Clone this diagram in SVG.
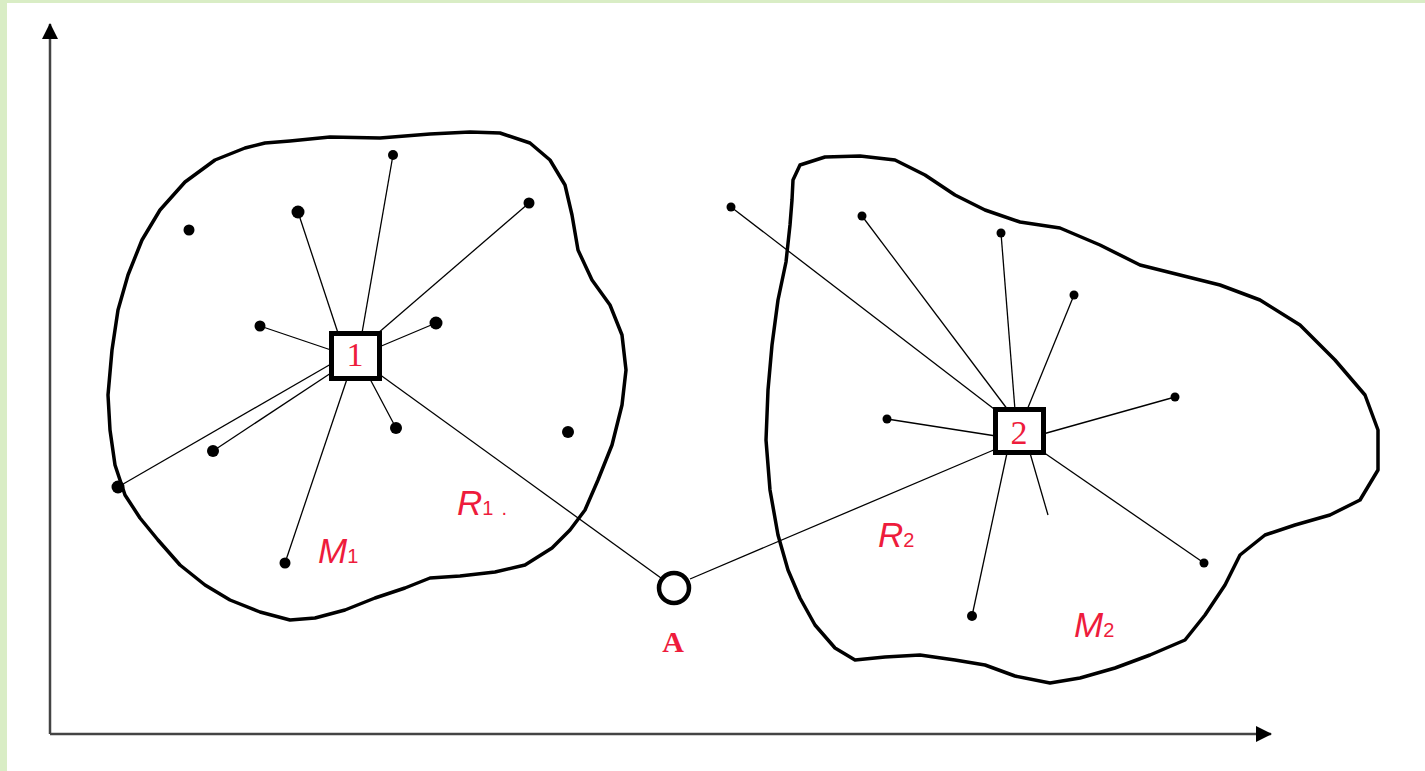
<svg xmlns="http://www.w3.org/2000/svg" width="1425" height="771" viewBox="0 0 1425 771">
<style>
.blob{fill:none;stroke:#000;stroke-width:3.5;stroke-linejoin:round}
.axis{stroke:#444;stroke-width:2.5;fill:none}
.ln{stroke:#000;stroke-width:1.3}
.dot{fill:#000}
.box{fill:#fff;stroke:#000;stroke-width:5}
.num{font-family:"Liberation Serif",serif;font-size:34px;fill:#ee1c3c;text-anchor:middle}
.lbl{font-family:"Liberation Sans",Arial,sans-serif;font-style:italic;font-size:35px;fill:#ee1c3c}
.sub{font-style:normal;font-size:20px}
</style>
<defs>
<marker id="arr" viewBox="0 0 16 16" refX="15" refY="8" markerWidth="16" markerHeight="16" markerUnits="userSpaceOnUse" orient="auto">
<path d="M0,0 L16,8 L0,16 Z" fill="#000"/>
</marker>
</defs>
<rect width="1425" height="771" fill="#fff"/>
<rect x="0" y="0" width="1425" height="3" fill="#d9edc5"/>
<rect x="0" y="0" width="7" height="771" fill="#d9edc5"/>
<g id="axes">
<path class="axis" d="M50,734 L50,24" marker-end="url(#arr)"/>
<path class="axis" d="M50,734 L1271,734" marker-end="url(#arr)"/>
</g>
<g id="region1">
<path class="blob" d="M245,148 L265,143 L290,141 L330,137 L380,138 L430,134 L470,132 L500,133 L530,143 L550,160 L565,185 L572,215 L578,250 L592,280 L610,305 L622,335 L626,370 L622,405 L612,445 L598,480 L585,510 L570,530 L552,548 L525,565 L495,572 L460,576 L430,578 L405,588 L375,598 L345,610 L315,618 L290,620 L260,612 L230,600 L205,585 L180,565 L158,540 L140,518 L125,495 L115,465 L110,430 L108,395 L112,350 L118,310 L128,275 L142,240 L160,210 L185,182 L215,160 Z"/>
</g>
<g id="region2">
<path class="blob" d="M793,180 L800,165 L825,157 L860,156 L895,160 L925,175 L955,195 L985,210 L1020,222 L1060,228 L1100,245 L1140,265 L1180,275 L1220,285 L1260,300 L1300,325 L1335,360 L1365,395 L1378,430 L1378,470 L1360,500 L1330,515 L1295,525 L1265,535 L1240,555 L1225,585 L1205,615 L1185,640 L1150,655 L1115,668 L1080,678 L1050,683 L1015,676 L985,665 L955,660 L920,655 L885,657 L855,660 L835,648 L815,625 L800,598 L788,570 L778,535 L770,490 L766,440 L768,390 L772,345 L778,300 L786,262 L790,225 L792,200 Z"/>
</g>
<g id="connectors">
<line class="ln" x1="393" y1="155" x2="362" y2="333"/>
<line class="ln" x1="298" y1="212" x2="338" y2="333"/>
<line class="ln" x1="529" y1="203" x2="377" y2="334"/>
<line class="ln" x1="260" y1="326" x2="331" y2="350"/>
<line class="ln" x1="436" y1="323" x2="379" y2="347"/>
<line class="ln" x1="396" y1="428" x2="370" y2="379"/>
<line class="ln" x1="118" y1="487" x2="331" y2="364"/>
<line class="ln" x1="213" y1="451" x2="331" y2="373"/>
<line class="ln" x1="285" y1="563" x2="347" y2="379"/>
<line class="ln" x1="379" y1="374" x2="661" y2="578"/>
<line class="ln" x1="690" y1="579" x2="996" y2="449"/>
<line class="ln" x1="731" y1="207" x2="998" y2="412"/>
<line class="ln" x1="862" y1="216" x2="1008" y2="410"/>
<line class="ln" x1="1001" y1="233" x2="1015" y2="410"/>
<line class="ln" x1="1074" y1="295" x2="1027" y2="410"/>
<line class="ln" x1="1175" y1="397" x2="1043" y2="434"/>
<line class="ln" x1="887" y1="419" x2="996" y2="436"/>
<line class="ln" x1="1204" y1="563" x2="1043" y2="452"/>
<line class="ln" x1="972" y1="616" x2="1007" y2="453"/>
<line class="ln" x1="1048" y1="515" x2="1030" y2="453"/>
</g>
<g id="dots1">
<circle class="dot" cx="393" cy="155" r="5"/>
<circle class="dot" cx="298" cy="212" r="6.5"/>
<circle class="dot" cx="529" cy="203" r="5.5"/>
<circle class="dot" cx="189" cy="230" r="5.5"/>
<circle class="dot" cx="260" cy="326" r="5.5"/>
<circle class="dot" cx="436" cy="323" r="6.5"/>
<circle class="dot" cx="396" cy="428" r="6"/>
<circle class="dot" cx="568" cy="432" r="6"/>
<circle class="dot" cx="213" cy="451" r="6"/>
<circle class="dot" cx="118" cy="487" r="6.5"/>
<circle class="dot" cx="285" cy="563" r="5.5"/>
</g>
<g id="dots2">
<circle class="dot" cx="731" cy="207" r="4.5"/>
<circle class="dot" cx="862" cy="216" r="4.5"/>
<circle class="dot" cx="1001" cy="233" r="4.5"/>
<circle class="dot" cx="1074" cy="295" r="4.5"/>
<circle class="dot" cx="1175" cy="397" r="4.5"/>
<circle class="dot" cx="887" cy="419" r="4.5"/>
<circle class="dot" cx="1204" cy="563" r="4.5"/>
<circle class="dot" cx="972" cy="616" r="5"/>
</g>
<g id="node1">
<rect class="box" x="331.5" y="333.5" width="48" height="45"/>
<text class="num" x="355" y="366">1</text>
</g>
<g id="node2">
<rect class="box" x="995.5" y="409.5" width="48" height="43"/>
<text class="num" x="1019" y="444">2</text>
</g>
<g id="nodeA">
<circle cx="674" cy="588" r="15" fill="#fff" stroke="#000" stroke-width="4.5"/>
<text x="673" y="652" font-family="'Liberation Serif',serif" font-weight="bold" font-size="30" fill="#ee1c3c" text-anchor="middle">A</text>
</g>
<g id="labels">
<text class="lbl" x="457" y="515">R<tspan class="sub">1</tspan><tspan class="sub" dx="8" font-size="12">.</tspan></text>
<text class="lbl" x="318" y="563">M<tspan class="sub">1</tspan></text>
<text class="lbl" x="878" y="547">R<tspan class="sub">2</tspan></text>
<text class="lbl" x="1074" y="637">M<tspan class="sub">2</tspan></text>
</g>
</svg>
